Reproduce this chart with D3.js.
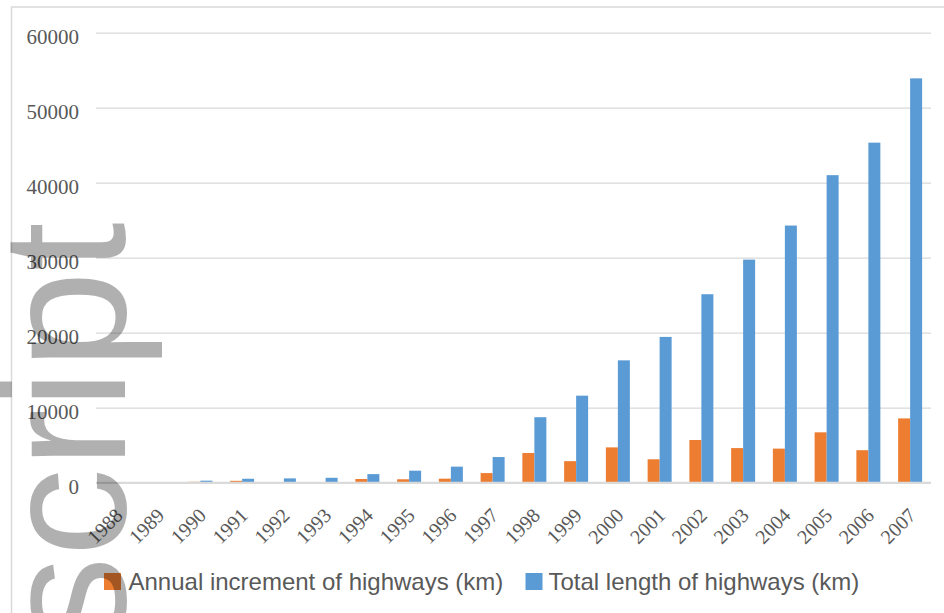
<!DOCTYPE html>
<html>
<head>
<meta charset="utf-8">
<script src="https://cdn.jsdelivr.net/npm/d3@7/dist/d3.min.js"></script>
<style>
  html, body { margin: 0; padding: 0; background: #ffffff; }
  svg { display: block; }
</style>
</head>
<body>
<svg id="chart" width="944" height="613"></svg>
<script>
// Highway construction by year
const years = ["1988","1989","1990","1991","1992","1993","1994","1995","1996","1997",
               "1998","1999","2000","2001","2002","2003","2004","2005","2006","2007"];
const annualIncrement = [0, 0, 124, 251, 52, 78, 493, 458, 538, 1281,
                         3962, 2872, 4709, 3123, 5693, 4615, 4543, 6717, 4334, 8574];
const totalLength = [0, 0, 271, 522, 574, 652, 1145, 1603, 2141, 3422,
                     8733, 11605, 16314, 19437, 25130, 29745, 34288, 41005, 45339, 53913];
const seriesNames = ["Annual increment of highways (km)", "Total length of highways (km)"];
const seriesColors = ["#ED7D31", "#5B9BD5"];
const yTicks = [0, 10000, 20000, 30000, 40000, 50000, 60000];

const svg = d3.select("#chart");
const W = 944, H = 613;
const plot = { left: 96, right: 931, top: 32.7, bottom: 482.7 };

// chart area frame
svg.append("rect")
  .attr("x", 11.5).attr("y", 7)
  .attr("width", W + 10).attr("height", H + 10)
  .attr("fill", "none").attr("stroke", "#d9d9d9").attr("stroke-width", 1.5);

const x = d3.scaleBand().domain(years).range([plot.left, plot.right]).padding(0);
const xInner = d3.scaleBand().domain([0, 1]).range([0, x.bandwidth()])
  .paddingInner(0).paddingOuter(0.74);
const y = d3.scaleLinear().domain([0, 60000]).range([plot.bottom, plot.top]);

// value axis with gridlines
const yAxis = d3.axisLeft(y).tickValues(yTicks).tickFormat(d3.format("d"))
  .tickSize(-(plot.right - plot.left)).tickPadding(17);
const gy = svg.append("g").attr("transform", `translate(${plot.left},0)`).call(yAxis);
gy.select(".domain").remove();
gy.selectAll(".tick line").attr("stroke", "#d9d9d9").attr("stroke-width", 1.3);
gy.selectAll(".tick text")
  .attr("font-family", "'Liberation Serif', 'Times New Roman', serif")
  .attr("font-size", 21).attr("fill", "#595959").attr("dy", "0.5em");

// bars
const seriesData = [annualIncrement, totalLength];
seriesData.forEach((vals, si) => {
  svg.append("g").selectAll("rect").data(vals).join("rect")
    .attr("x", (d, i) => x(years[i]) + xInner(si))
    .attr("width", xInner.bandwidth())
    .attr("y", d => y(d))
    .attr("height", d => y(0) - y(d))
    .attr("fill", seriesColors[si]);
});

// category axis line
svg.append("line")
  .attr("x1", plot.left).attr("x2", plot.right)
  .attr("y1", y(0)).attr("y2", y(0))
  .attr("stroke", "#d9d9d9").attr("stroke-width", 2);

// rotated year labels
svg.append("g").selectAll("text").data(years).join("text")
  .attr("transform", d => `translate(${x(d) + x.bandwidth() / 2 + 7},${y(0) + 34}) rotate(-45)`)
  .attr("text-anchor", "end")
  .attr("font-family", "'Liberation Serif', 'Times New Roman', serif")
  .attr("font-size", 20).attr("fill", "#595959")
  .text(d => d);

// legend
const legendPos = [{ sx: 104, tx: 128.5 }, { sx: 525.5, tx: 548.5 }];
const legend = svg.append("g");
seriesNames.forEach((name, i) => {
  legend.append("rect")
    .attr("x", legendPos[i].sx).attr("y", 573)
    .attr("width", 17).attr("height", 17)
    .attr("fill", seriesColors[i]);
  legend.append("text")
    .attr("x", legendPos[i].tx).attr("y", 590)
    .attr("font-family", "'Liberation Sans', Arial, sans-serif")
    .attr("font-size", 24).attr("fill", "#595959")
    .text(name);
});

// translucent watermark along the left edge
svg.append("text")
  .attr("transform", "translate(125,222) rotate(-90)")
  .attr("text-anchor", "end")
  .attr("font-family", "'Liberation Sans', Arial, sans-serif")
  .attr("font-size", 177)
  .attr("fill", "#000000").attr("fill-opacity", 0.31)
  .text("script");
</script>
</body>
</html>
